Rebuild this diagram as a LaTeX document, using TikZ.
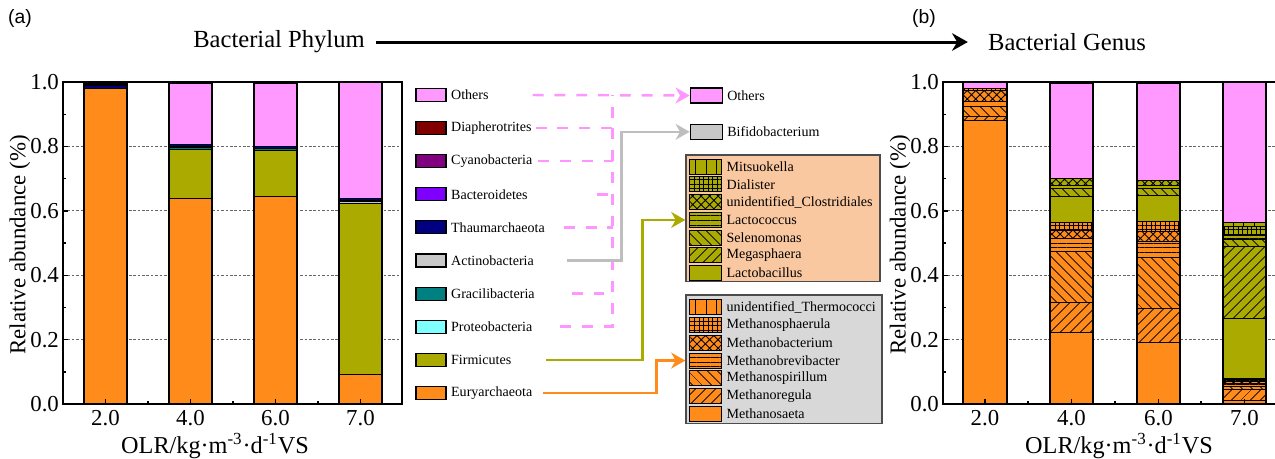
\documentclass[tikz,border=0pt]{standalone}
\usepackage{fontspec}
\setmainfont{Liberation Serif}
\newfontfamily\panelfont{Liberation Sans}
\usetikzlibrary{positioning, arrows.meta, patterns.meta}
\definecolor{eury}{RGB}{255,140,26}
\definecolor{firm}{RGB}{170,170,0}
\definecolor{othr}{RGB}{255,153,255}
\definecolor{diap}{RGB}{128,0,0}
\definecolor{cyano}{RGB}{128,0,128}
\definecolor{bact}{RGB}{128,0,255}
\definecolor{thau}{RGB}{0,0,128}
\definecolor{acti}{RGB}{200,200,200}
\definecolor{grac}{RGB}{0,128,128}
\definecolor{prot}{RGB}{128,255,255}
\definecolor{peach}{RGB}{250,200,160}
\definecolor{panelgray}{RGB}{216,216,216}
\definecolor{pinkln}{RGB}{255,150,255}
\definecolor{grayln}{RGB}{190,190,190}

\begin{document}
\begin{tikzpicture}[x=0.02cm, y=-0.02cm, node distance={6.62mm},
  bar/.style = {draw, line width=0.6pt},
  axbox/.style = {draw, line width=0.8pt},
  gline/.style = {draw=black!60, dash pattern=on 1.5pt off 1pt, line width=0.5pt},
  pv/.style = {postaction={pattern={Lines[angle=90, distance=6pt, line width=0.5pt]}}},
  pg/.style = {postaction={pattern={Hatch[angle=0, distance=2.6pt, line width=0.4pt]}}},
  px/.style = {postaction={pattern={Hatch[angle=45, distance=3.4pt, line width=0.5pt]}}},
  ph/.style = {postaction={pattern={Lines[angle=0, distance=2.6pt, line width=0.5pt]}}},
  pnw/.style = {postaction={pattern={Lines[angle=-45, distance=4pt, line width=0.5pt]}}},
  pne/.style = {postaction={pattern={Lines[angle=45, distance=4pt, line width=0.5pt]}}},
  ps/.style = {draw, line width=0.6pt, minimum width=0.6cm, minimum height=0.26cm, inner sep=0pt},
  gs/.style = {draw, line width=0.6pt, minimum width=0.64cm, minimum height=0.3cm, inner sep=0pt},
  lt/.style = {font=\fontsize{8}{10}\selectfont, inner sep=1pt},
  tk/.style = {font=\fontsize{13}{15}\selectfont, inner sep=1pt},
  ttl/.style = {font=\fontsize{13}{15}\selectfont, inner sep=1pt},
  xttl/.style = {font=\fontsize{13.8}{16}\selectfont, inner sep=1pt},
  hd/.style = {font=\fontsize{14}{16}\selectfont},
  pdash/.style = {draw=pinkln, line width=1.4pt, dash pattern=on 6.2pt off 6.2pt},
  conn/.style = {line width=1.4pt},
  gtip/.style = {-{Stealth[length=8pt, width=9pt, inset=2.5pt]}}]
  \useasboundingbox (0,0) rectangle (1275,458);

  \node[font=\panelfont\fontsize{11}{13}\selectfont] (pa) at (20,18) {(a)};
  \node[font=\panelfont\fontsize{11}{13}\selectfont] (pb) at (924,18) {(b)};
  \node[hd] (phy) at (279,42) {Bacterial Phylum};
  \node[hd] (gen) at (1067,42) {Bacterial Genus};
  \draw[line width=1.7pt, -{Stealth[length=9pt, width=10pt]}, shorten <=2.8pt, shorten >=8pt] (phy) -- (gen);

  \begin{scope}[shift={(0,404)}, y=6.44cm]
    \draw[gline] (63,0.2) -- (402,0.2);
    \draw[gline] (63,0.4) -- (402,0.4);
    \draw[gline] (63,0.6) -- (402,0.6);
    \draw[gline] (63,0.8) -- (402,0.8);
    \draw[bar, fill=eury] (84,0) rectangle (127,0.980);
    \draw[bar, fill=thau] (84,0.980) rectangle (127,0.989);
    \draw[bar, fill=cyano] (84,0.989) rectangle (127,0.994);
    \draw[bar, fill=othr] (84,0.994) rectangle (127,0.999);
    \draw[bar, fill=eury] (169,0) rectangle (212,0.639);
    \draw[bar, fill=firm] (169,0.639) rectangle (212,0.791);
    \draw[bar, fill=grac] (169,0.791) rectangle (212,0.796);
    \draw[bar, fill=acti] (169,0.796) rectangle (212,0.799);
    \draw[bar, fill=thau] (169,0.799) rectangle (212,0.807);
    \draw[bar, fill=othr] (169,0.807) rectangle (212,0.997);
    \draw[bar, fill=eury] (254,0) rectangle (297,0.646);
    \draw[bar, fill=firm] (254,0.646) rectangle (297,0.788);
    \draw[bar, fill=grac] (254,0.788) rectangle (297,0.793);
    \draw[bar, fill=thau] (254,0.793) rectangle (297,0.801);
    \draw[bar, fill=othr] (254,0.801) rectangle (297,0.997);
    \draw[bar, fill=eury] (339,0) rectangle (382,0.092);
    \draw[bar, fill=firm] (339,0.092) rectangle (382,0.622);
    \draw[bar, fill=acti] (339,0.622) rectangle (382,0.628);
    \draw[bar, fill=grac] (339,0.628) rectangle (382,0.633);
    \draw[bar, fill=thau] (339,0.633) rectangle (382,0.637);
    \draw[bar, fill=othr] (339,0.637) rectangle (382,0.999);
    \draw[axbox] (63,0) rectangle (402,1);
    \foreach \v in {0,0.2,0.4,0.6,0.8,1} \draw[axbox] (63,\v) -- (68,\v);
    \foreach \v in {0.1,0.3,0.5,0.7,0.9} \draw[axbox] (63,\v) -- (66,\v);
    \foreach \x in {105.5,190.5,275.5,360.5} \draw[axbox] (\x,0) -- (\x,0.016);
    \foreach \x in {148,233,318} \draw[axbox] (\x,0) -- (\x,0.009);
    \node[tk, anchor=east] (ya0) at (61,0) {0.0};
    \node[tk, anchor=east] (ya2) at (61,0.2) {0.2};
    \node[tk, anchor=east] (ya4) at (61,0.4) {0.4};
    \node[tk, anchor=east] (ya6) at (61,0.6) {0.6};
    \node[tk, anchor=east] (ya8) at (61,0.8) {0.8};
    \node[tk, anchor=east] (ya10) at (61,1) {1.0};
  \end{scope}
  \node[tk] (xa1) at (105.5,418) {2.0};
  \node[tk] (xa2) at (190.5,418) {4.0};
  \node[tk] (xa3) at (275.5,418) {6.0};
  \node[tk] (xa4) at (360.5,418) {7.0};
  \node[ttl, rotate=90] (yta) at (20,245) {Relative abundance (\%)};
  \node[xttl] (xta) at (215,446) {OLR/kg·m\textsuperscript{-3}·d\textsuperscript{-1}VS};

  \begin{scope}[shift={(0,404)}, y=6.44cm]
    \draw[gline] (943,0.2) -- (1277,0.2);
    \draw[gline] (943,0.4) -- (1277,0.4);
    \draw[gline] (943,0.6) -- (1277,0.6);
    \draw[gline] (943,0.8) -- (1277,0.8);
    \draw[bar, fill=eury] (963,0) rectangle (1007,0.882);
    \draw[bar, fill=eury, pne] (963,0.882) rectangle (1007,0.892);
    \draw[bar, fill=eury, pnw] (963,0.892) rectangle (1007,0.923);
    \draw[bar, fill=eury, ph] (963,0.923) rectangle (1007,0.940);
    \draw[bar, fill=eury, px] (963,0.940) rectangle (1007,0.975);
    \draw[bar, fill=eury, pg] (963,0.975) rectangle (1007,0.980);
    \draw[bar, fill=othr] (963,0.980) rectangle (1007,0.999);
    \draw[bar, fill=eury] (1050,0) rectangle (1093,0.223);
    \draw[bar, fill=eury, pne] (1050,0.223) rectangle (1093,0.316);
    \draw[bar, fill=eury, pnw] (1050,0.316) rectangle (1093,0.475);
    \draw[bar, fill=eury, ph] (1050,0.475) rectangle (1093,0.515);
    \draw[bar, fill=eury, px] (1050,0.515) rectangle (1093,0.540);
    \draw[bar, fill=eury, pg] (1050,0.540) rectangle (1093,0.564);
    \draw[bar, fill=firm] (1050,0.564) rectangle (1093,0.646);
    \draw[bar, fill=firm, pnw] (1050,0.646) rectangle (1093,0.668);
    \draw[bar, fill=firm, ph] (1050,0.668) rectangle (1093,0.678);
    \draw[bar, fill=firm, px] (1050,0.678) rectangle (1093,0.700);
    \draw[bar, fill=othr] (1050,0.700) rectangle (1093,0.997);
    \draw[bar, fill=eury] (1137,0) rectangle (1180,0.192);
    \draw[bar, fill=eury, pne] (1137,0.192) rectangle (1180,0.297);
    \draw[bar, fill=eury, pnw] (1137,0.297) rectangle (1180,0.456);
    \draw[bar, fill=eury, ph] (1137,0.456) rectangle (1180,0.504);
    \draw[bar, fill=eury, px] (1137,0.504) rectangle (1180,0.535);
    \draw[bar, fill=eury, pg] (1137,0.535) rectangle (1180,0.566);
    \draw[bar, fill=firm] (1137,0.566) rectangle (1180,0.648);
    \draw[bar, fill=firm, pnw] (1137,0.648) rectangle (1180,0.668);
    \draw[bar, fill=firm, ph] (1137,0.668) rectangle (1180,0.680);
    \draw[bar, fill=firm, px] (1137,0.680) rectangle (1180,0.694);
    \draw[bar, fill=othr] (1137,0.694) rectangle (1180,0.997);
    \draw[bar, fill=eury] (1223,0) rectangle (1266,0.012);
    \draw[bar, fill=eury, pne] (1223,0.012) rectangle (1266,0.045);
    \draw[bar, fill=eury, pnw] (1223,0.045) rectangle (1266,0.055);
    \draw[bar, fill=eury, ph] (1223,0.055) rectangle (1266,0.063);
    \draw[bar, fill=eury, px] (1223,0.063) rectangle (1266,0.070);
    \draw[bar, fill=eury, pg] (1223,0.070) rectangle (1266,0.075);
    \draw[bar, fill=eury, pv] (1223,0.075) rectangle (1266,0.080);
    \draw[bar, fill=firm] (1223,0.080) rectangle (1266,0.265);
    \draw[bar, fill=firm, pne] (1223,0.265) rectangle (1266,0.490);
    \draw[bar, fill=firm, pnw] (1223,0.490) rectangle (1266,0.510);
    \draw[bar, fill=firm, ph] (1223,0.510) rectangle (1266,0.525);
    \draw[bar, fill=firm, pg] (1223,0.525) rectangle (1266,0.552);
    \draw[bar, fill=firm, pv] (1223,0.552) rectangle (1266,0.563);
    \draw[bar, fill=othr] (1223,0.563) rectangle (1266,0.999);
    \draw[axbox] (943,0) rectangle (1277,1);
    \foreach \v in {0,0.2,0.4,0.6,0.8,1} \draw[axbox] (943,\v) -- (948,\v);
    \foreach \v in {0.1,0.3,0.5,0.7,0.9} \draw[axbox] (943,\v) -- (946,\v);
    \foreach \x in {985,1071.5,1158.5,1244.5} \draw[axbox] (\x,0) -- (\x,0.016);
    \foreach \x in {1028,1115,1201} \draw[axbox] (\x,0) -- (\x,0.009);
    \node[tk, anchor=east] (yb0) at (941,0) {0.0};
    \node[tk, anchor=east] (yb2) at (941,0.2) {0.2};
    \node[tk, anchor=east] (yb4) at (941,0.4) {0.4};
    \node[tk, anchor=east] (yb6) at (941,0.6) {0.6};
    \node[tk, anchor=east] (yb8) at (941,0.8) {0.8};
    \node[tk, anchor=east] (yb10) at (941,1) {1.0};
  \end{scope}
  \node[tk] (xb1) at (985,418) {2.0};
  \node[tk] (xb2) at (1071.5,418) {4.0};
  \node[tk] (xb3) at (1158.5,418) {6.0};
  \node[tk] (xb4) at (1244.5,418) {7.0};
  \node[ttl, rotate=90] (ytb) at (900,245) {Relative abundance (\%)};
  \node[xttl] (xtb) at (1119,446) {OLR/kg·m\textsuperscript{-3}·d\textsuperscript{-1}VS};

  \node[ps, fill=othr] (soth) at (431,95) {};
  \node[ps, fill=diap] (sdia) [below of=soth] {};
  \node[ps, fill=cyano] (scya) [below of=sdia] {};
  \node[ps, fill=bact] (sbac) [below of=scya] {};
  \node[ps, fill=thau] (stha) [below of=sbac] {};
  \node[ps, fill=acti] (sact) [below of=stha] {};
  \node[ps, fill=grac] (sgra) [below of=sact] {};
  \node[ps, fill=prot] (spro) [below of=sgra] {};
  \node[ps, fill=firm] (sfir) [below of=spro] {};
  \node[ps, fill=eury] (seur) [below of=sfir] {};
  \node[lt, right=0.5mm of soth] (toth) {Others};
  \node[lt, right=0.5mm of sdia] (tdia) {Diapherotrites};
  \node[lt, right=0.5mm of scya] (tcya) {Cyanobacteria};
  \node[lt, right=0.5mm of sbac] (tbac) {Bacteroidetes};
  \node[lt, right=0.5mm of stha] (ttha) {Thaumarchaeota};
  \node[lt, right=0.5mm of sact] (tact) {Actinobacteria};
  \node[lt, right=0.5mm of sgra] (tgra) {Gracilibacteria};
  \node[lt, right=0.5mm of spro] (tpro) {Proteobacteria};
  \node[lt, right=0.5mm of sfir] (tfir) {Firmicutes};
  \node[lt, right=0.5mm of seur] (teur) {Euryarchaeota};

  \node[gs, fill=othr] (goth) at (706.2,95.5) {};
  \node[gs, fill=acti] (gbif) at (706.2,131.8) {};
  \node[lt, right=0.5mm of goth] (tgoth) {Others};
  \node[lt, right=0.5mm of gbif] (tgbif) {Bifidobacterium};

  \node[draw=black!70, line width=0.8pt, fill=peach, minimum width=3.88cm, minimum height=2.53cm] (fbox) at (783,218.3) {};
  \node[draw=black!70, line width=0.8pt, fill=panelgray, minimum width=3.92cm, minimum height=2.57cm] (obox) at (784,359.2) {};
  \begin{scope}[node distance=3.55mm]
    \node[gs, fill=firm, pv] (mi) at (705.5,166.7) {};
    \node[gs, fill=firm, pg] (di) [below of=mi] {};
    \node[gs, fill=firm, px] (uc) [below of=di] {};
    \node[gs, fill=firm, ph] (lc) [below of=uc] {};
    \node[gs, fill=firm, pnw] (se) [below of=lc] {};
    \node[gs, fill=firm, pne] (me) [below of=se] {};
    \node[gs, fill=firm] (lb) [below of=me] {};
    \node[gs, fill=eury, pv] (ut) at (705.5,307.3) {};
    \node[gs, fill=eury, pg] (ms) [below of=ut] {};
    \node[gs, fill=eury, px] (mb) [below of=ms] {};
    \node[gs, fill=eury, ph] (mv) [below of=mb] {};
    \node[gs, fill=eury, pnw] (mp) [below of=mv] {};
    \node[gs, fill=eury, pne] (mr) [below of=mp] {};
    \node[gs, fill=eury] (mt) [below of=mr] {};
  \end{scope}
  \node[lt, right=0.5mm of mi] (tmi) {Mitsuokella};
  \node[lt, right=0.5mm of di] (tdi) {Dialister};
  \node[lt, right=0.5mm of uc] (tuc) {unidentified\_Clostridiales};
  \node[lt, right=0.5mm of lc] (tlc) {Lactococcus};
  \node[lt, right=0.5mm of se] (tse) {Selenomonas};
  \node[lt, right=0.5mm of me] (tme) {Megasphaera};
  \node[lt, right=0.5mm of lb] (tlb) {Lactobacillus};
  \node[lt, right=0.5mm of ut] (tut) {unidentified\_Thermococci};
  \node[lt, right=0.5mm of ms] (tms) {Methanosphaerula};
  \node[lt, right=0.5mm of mb] (tmb) {Methanobacterium};
  \node[lt, right=0.5mm of mv] (tmv) {Methanobrevibacter};
  \node[lt, right=0.5mm of mp] (tmp) {Methanospirillum};
  \node[lt, right=0.5mm of mr] (tmr) {Methanoregula};
  \node[lt, right=0.5mm of mt] (tmt) {Methanosaeta};

  \coordinate (pk) at (612.7,95);
  \coordinate (ak) at (621.7,132);
  \coordinate (fk) at (642.7,212);
  \coordinate (ek) at (656.7,360);
  \draw[pdash] ([xshift=0.04cm]tdia.east) -- (tdia.east -| pk);
  \draw[pdash] ([xshift=0.08cm]tcya.east) -- (tcya.east -| pk);
  \draw[pdash] ([xshift=1.35cm]tbac.east) -- (tbac.east -| pk);
  \draw[pdash] ([xshift=0.34cm]ttha.east) -- (ttha.east -| pk);
  \draw[pdash] ([xshift=0.7cm]tgra.east) -- (tgra.east -| pk);
  \draw[pdash] ([xshift=0.52cm]tpro.east) -| (pk);
  \draw[pdash, gtip] ([xshift=0.84cm]toth.east) -- (goth.west);
  \draw[conn, grayln, gtip] ([xshift=0.62cm]tact.east) -| (gbif.west -| ak) -- (gbif.west);
  \draw[conn, firm, gtip] ([xshift=0.66cm]tfir.east) -| (lc -| fk) -- (lc -| fbox.west);
  \draw[conn, eury, gtip] ([xshift=0.18cm]teur.east) -| (mv -| ek) -- (mv -| obox.west);

\end{tikzpicture}
\end{document}
